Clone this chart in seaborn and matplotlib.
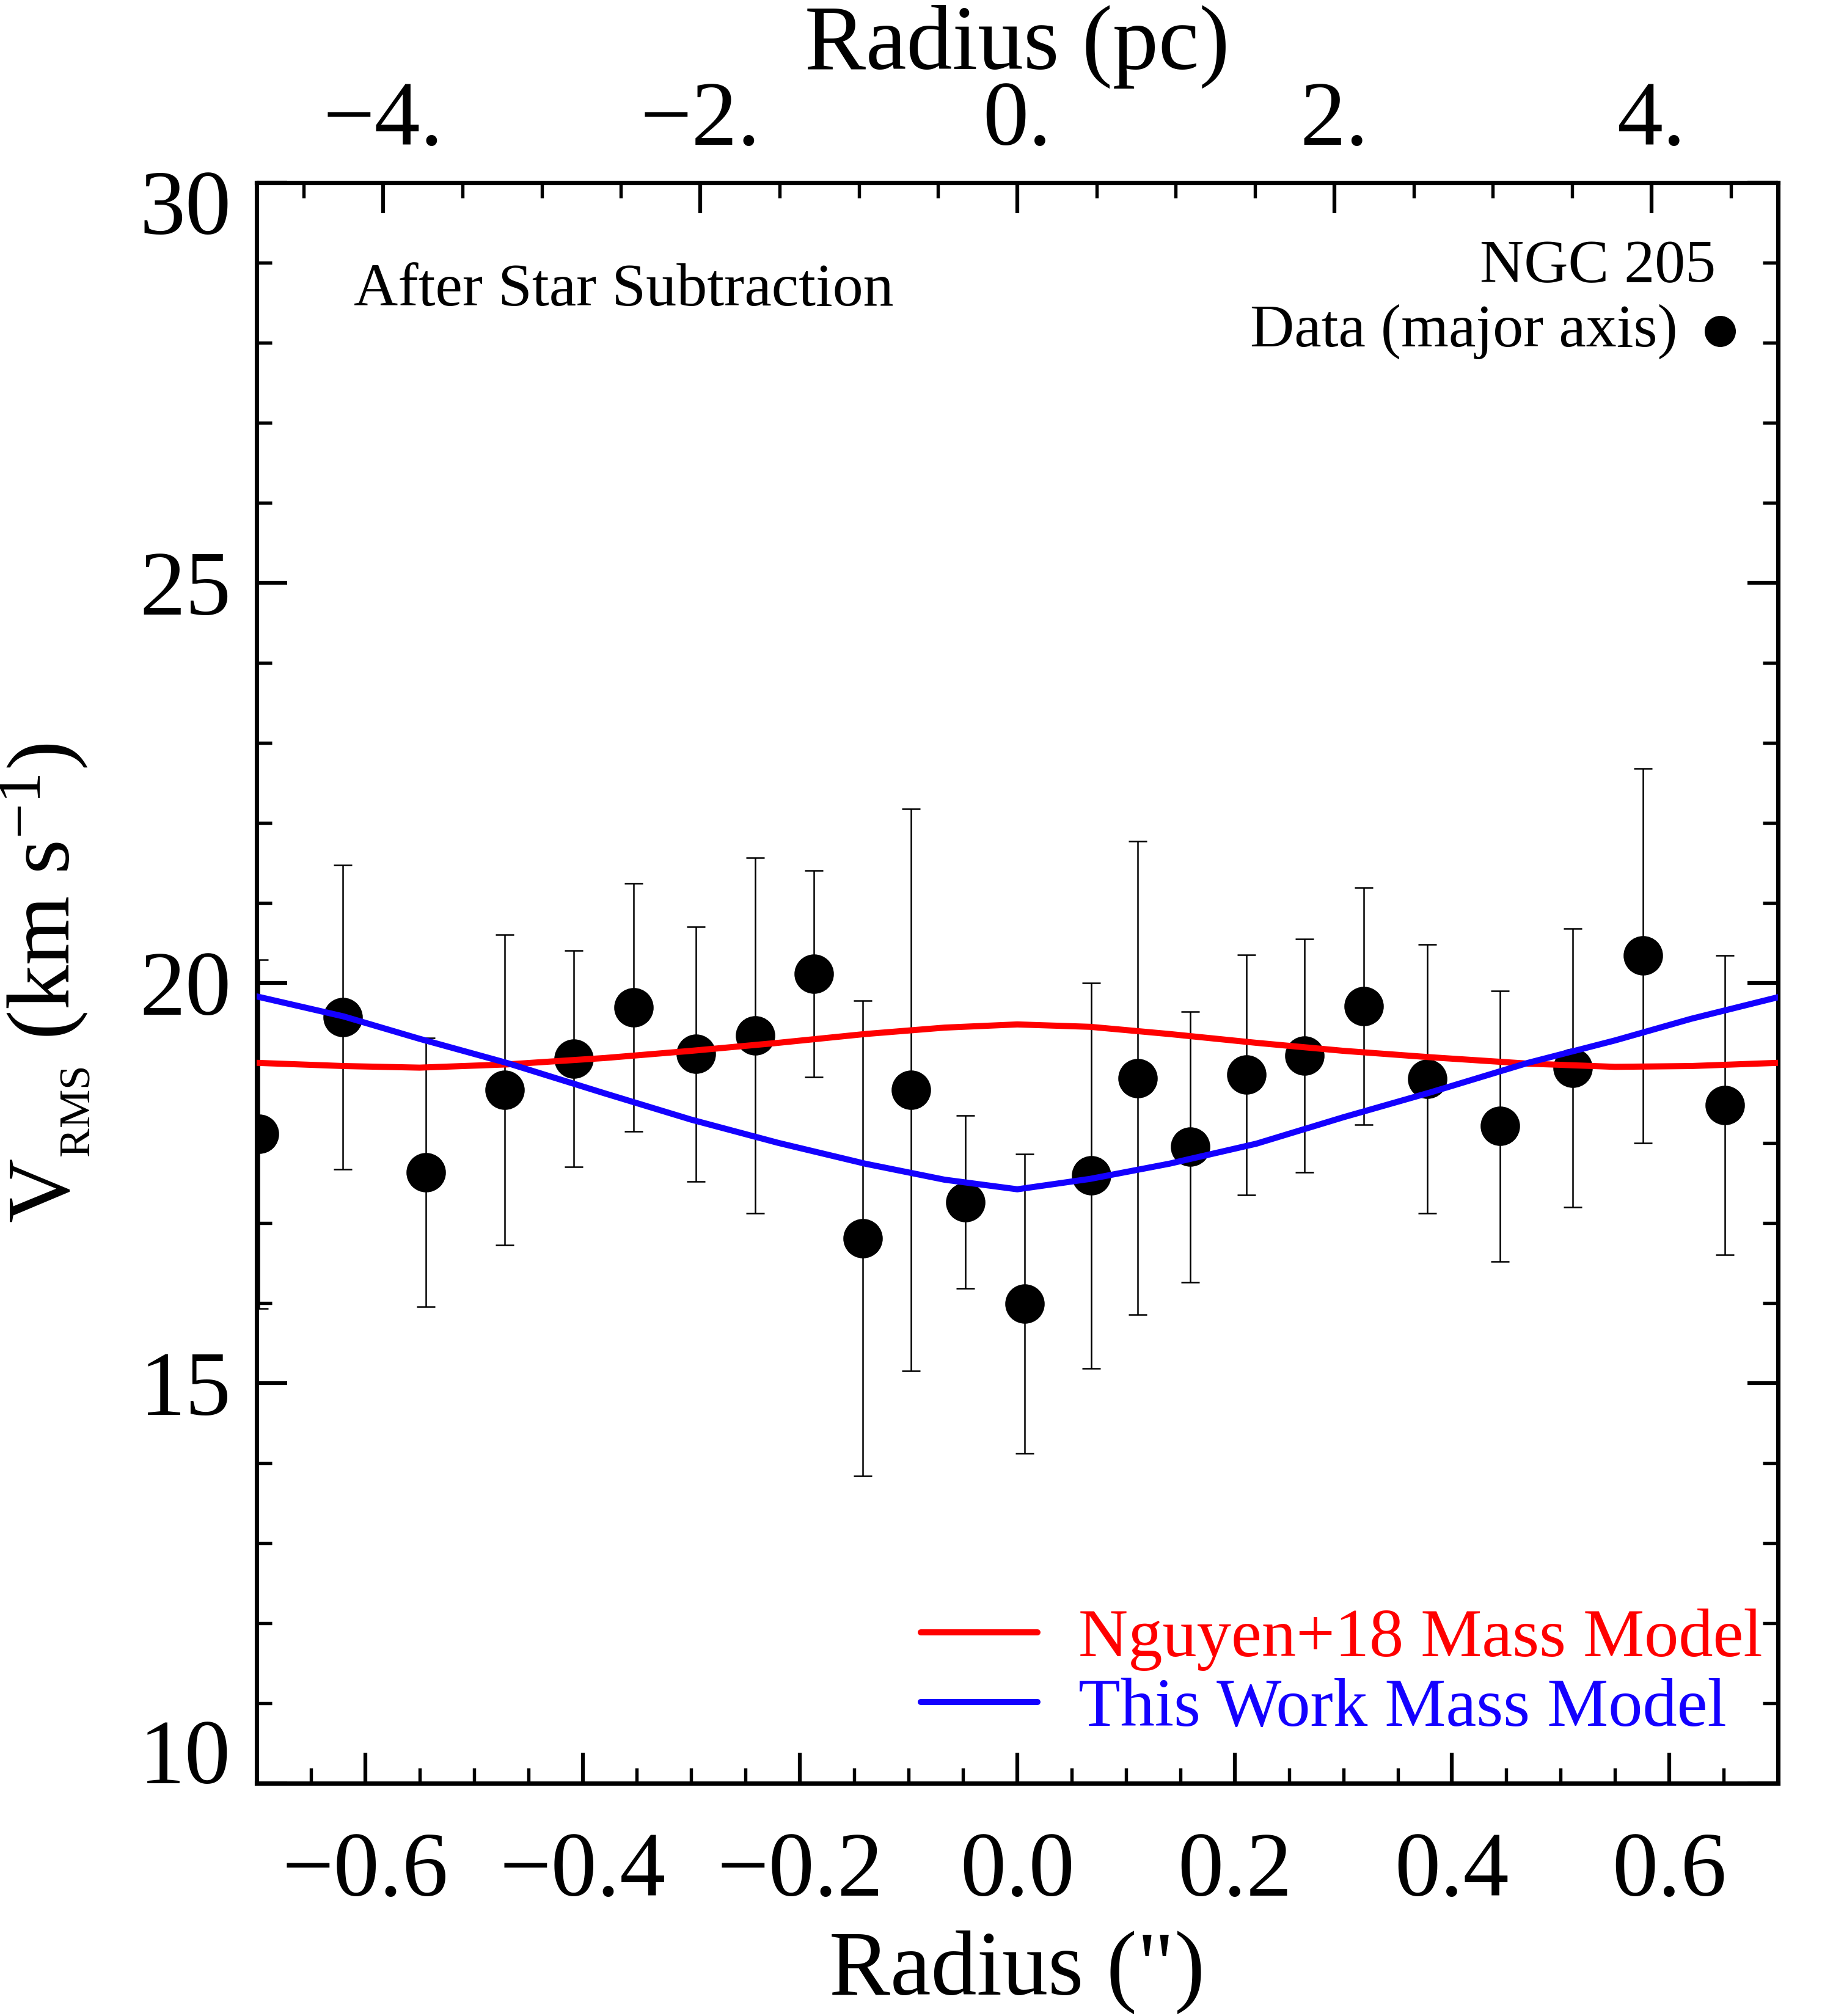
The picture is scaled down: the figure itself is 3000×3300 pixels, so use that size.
import matplotlib
matplotlib.use('Agg')
import matplotlib.pyplot as plt
import matplotlib.transforms as mtransforms
import numpy as np
import pandas as pd
import seaborn as sns
from matplotlib.ticker import MultipleLocator, FuncFormatter

# NGC 205 rms velocity along the major axis (after star subtraction)
radius = [-0.698, -0.621, -0.544, -0.472, -0.408, -0.353, -0.296, -0.241,
          -0.187, -0.142, -0.098, -0.048, 0.007, 0.068, 0.111, 0.159,
          0.211, 0.264, 0.319, 0.377, 0.444, 0.511, 0.576, 0.651]
vrms = [18.11, 19.57, 17.63, 18.66, 19.05, 19.69, 19.11, 19.34,
        20.11, 16.81, 18.66, 17.26, 15.99, 17.59, 18.81, 17.95,
        18.85, 19.09, 19.71, 18.80, 18.21, 18.94, 20.34, 18.47]
vrms_err = [2.18, 1.90, 1.68, 1.94, 1.35, 1.55, 1.59, 2.22,
            1.29, 2.97, 3.51, 1.08, 1.87, 2.41, 2.96, 1.69,
            1.50, 1.46, 1.48, 1.68, 1.69, 1.74, 2.34, 1.87]

# mass model predictions
model_r = [-0.70, -0.62, -0.55, -0.47, -0.38, -0.30, -0.22, -0.14, -0.067, 0.0,
           0.067, 0.14, 0.22, 0.30, 0.38, 0.47, 0.55, 0.62, 0.70]
nguyen18 = [19.00, 18.96, 18.94, 18.98, 19.06, 19.15, 19.25, 19.36, 19.44, 19.48,
            19.45, 19.36, 19.25, 19.15, 19.07, 18.99, 18.95, 18.96, 19.00]
this_work = [19.83, 19.58, 19.30, 19.00, 18.62, 18.29, 18.00, 17.74, 17.54, 17.42,
             17.55, 17.74, 17.99, 18.32, 18.63, 19.00, 19.28, 19.55, 19.82]

yticks = [10, 15, 20, 25, 30]
pc_ticks = [-4, -2, 0, 2, 4]
PC_PER_ARCSEC = 6.855

sns.set_theme(style='ticks')
plt.rcParams['font.family'] = ['Liberation Serif', 'DejaVu Serif']
plt.rcParams['mathtext.fontset'] = 'custom'
plt.rcParams['mathtext.rm'] = 'Liberation Serif'
plt.rcParams['mathtext.it'] = 'Liberation Serif:italic'
plt.rcParams['axes.unicode_minus'] = True
for key in ['text.color', 'axes.labelcolor', 'xtick.color', 'ytick.color', 'axes.edgecolor']:
    plt.rcParams[key] = 'black'

data = pd.DataFrame({'r': radius, 'v': vrms, 'err': vrms_err})
models = pd.DataFrame({'r': model_r, 'nguyen': nguyen18, 'ours': this_work})

fig = plt.figure(figsize=(10, 11), dpi=300)
ax = fig.add_axes([0.14, 0.1155, 0.83, 0.794])

ax.errorbar(data['r'], data['v'], yerr=data['err'], fmt='none', ecolor='black',
            elinewidth=0.6, capsize=3.6, capthick=0.6, zorder=2)
sns.scatterplot(data=data, x='r', y='v', color='black', s=240, linewidth=0,
                ax=ax, zorder=2, legend=False)
sns.lineplot(data=models, x='r', y='nguyen', color='#ff0000', lw=2.4, sort=False,
             label='Nguyen+18 Mass Model', ax=ax, zorder=3)
sns.lineplot(data=models, x='r', y='ours', color='#1400ff', lw=2.4, sort=False,
             label='This Work Mass Model', ax=ax, zorder=3)

ax.set_xlim(-0.7, 0.7)
ax.set_ylim(10, 30)

minus = lambda s: s.replace('-', '\u2212')
ax.xaxis.set_major_locator(MultipleLocator(0.2))
ax.xaxis.set_minor_locator(MultipleLocator(0.05))
ax.xaxis.set_major_formatter(FuncFormatter(lambda v, p: minus(f'{v:.1f}') if abs(v) > 1e-9 else '0.0'))
ax.set_yticks(yticks)
ax.yaxis.set_minor_locator(MultipleLocator(1))
ax.yaxis.set_major_formatter(FuncFormatter(lambda v, p: f'{int(round(v))}'))

ax.tick_params(axis='x', which='both', direction='in', bottom=True, top=False,
               labelsize=36, pad=19)
ax.tick_params(axis='y', which='both', direction='in', left=True, right=True,
               labelsize=36, pad=10)
ax.tick_params(which='major', length=12, width=1.5, color='black')
ax.tick_params(which='minor', length=6, width=1.3, color='black')
for sp in ax.spines.values():
    sp.set_linewidth(1.7)

# end labels sit inside the axis range, as in the original
ylabs = ax.get_yticklabels()
ylabs[0].set_va('baseline')
ylabs[-1].set_va('top')
ylabs[-1].set_transform(ylabs[-1].get_transform() +
                        mtransforms.ScaledTranslation(0, 20 / 300, fig.dpi_scale_trans))

ax.set_xlabel('Radius (")', fontsize=36)
ax.xaxis.set_label_coords(0.5, -0.092)
ax.set_ylabel(r'V$_{_{\rm RMS}}$ (km s$^{-1}$)', fontsize=35)
ax.yaxis.set_label_coords(-0.108, 0.5)

secax = ax.secondary_xaxis('top', functions=(lambda x: x * PC_PER_ARCSEC,
                                              lambda p: p / PC_PER_ARCSEC))
secax.set_xticks(pc_ticks)
secax.xaxis.set_minor_locator(MultipleLocator(0.5))
secax.xaxis.set_major_formatter(FuncFormatter(lambda v, p: minus(f'{int(round(v))}.')))
secax.tick_params(which='both', direction='in', labelsize=36, pad=7)
secax.tick_params(which='major', length=12, width=1.5)
secax.tick_params(which='minor', length=6, width=1.3)
secax.spines['top'].set_linewidth(1.7)
secax.set_xlabel('Radius (pc)', fontsize=36)
secax.xaxis.set_label_coords(0.5, 1.071, transform=ax.transAxes)

ax.text(0.064, 0.923, 'After Star Subtraction', transform=ax.transAxes,
        fontsize=24, ha='left', va='baseline')
ax.text(0.959, 0.9378, 'NGC 205', transform=ax.transAxes,
        fontsize=24, ha='right', va='baseline')
ax.text(0.934, 0.8977, 'Data (major axis)', transform=ax.transAxes,
        fontsize=24, ha='right', va='baseline')
ax.scatter([0.962], [0.907], s=150, color='black', linewidth=0,
           transform=ax.transAxes, clip_on=False)

ax.legend(loc='lower right', bbox_to_anchor=(0.99, 0.0267), frameon=False,
          fontsize=27, handlelength=1.7, handletextpad=0.6, labelspacing=0.1,
          borderpad=0, borderaxespad=0, labelcolor='linecolor')

fig.savefig('out.png', dpi=300)
